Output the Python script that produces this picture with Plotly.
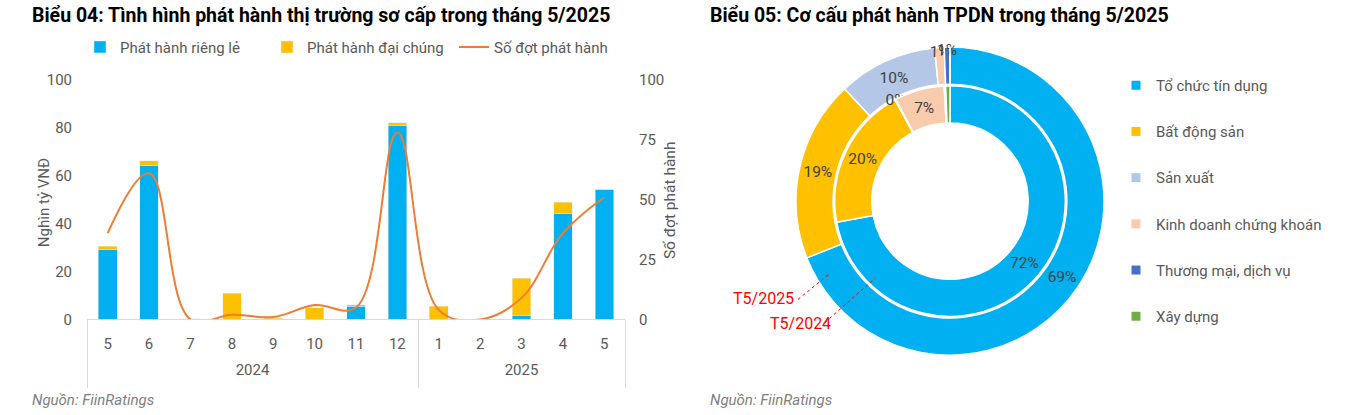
import plotly.graph_objects as go

# Biểu 04: du lieu theo thang
nam = ['2024'] * 8 + ['2025'] * 5
thang = ['5', '6', '7', '8', '9', '10', '11', '12', '1', '2', '3', '4', '5']
rieng_le = [29.3, 64.1, 0, 0, 0, 0, 5.6, 80.9, 0, 0, 1.8, 44.2, 54.4]
dai_chung = [1.2, 2.1, 0.3, 11.0, 0.6, 4.9, 0.6, 1.1, 5.5, 0, 15.4, 4.7, 0]
so_dot = [36, 61, 0, 2, 1, 6, 5, 78, 4, 0, 9, 36, 51]

# Biểu 05: co cau nganh
nganh = ['Tổ chức tín dụng', 'Bất động sản', 'Sản xuất',
         'Kinh doanh chứng khoán', 'Thương mại, dịch vụ', 'Xây dựng']
t5_2025 = [69.0, 19.0, 10.4, 1.0, 0.6, 0]
t5_2024 = [72.0, 20.0, 0.1, 7.0, 0.2, 0.6]
mau_nganh = ['#00B0F0', '#FFC000', '#B4C7E7', '#F8CBAD', '#4472C4', '#70AD47']

W, H = 1345, 415
FONT = 'Roboto'
XAM = '#595959'
VACH = '#D9D9D9'
# anh chup bi nen doc: y_anh = 0.954 * y_trang + 8.4
KY, DY = 0.954, 8.4


def px(x):
    return x / W


def sy(y):
    return (y - DY) / KY


def py(y):
    return 1 - sy(y) / H


# vi tri thang tren truc, giua nhom nam, ranh gioi nhom
vt = list(range(len(thang)))
cac_nam = sorted(set(nam))
giua_nam = [sum(i for i in vt if nam[i] == n) / nam.count(n) for n in cac_nam]
ranh_gioi = [-0.5] + [i + 0.5 for i in vt[:-1] if nam[i] != nam[i + 1]] + [len(vt) - 0.5]

fig = go.Figure()

fig.add_trace(go.Bar(x=vt, y=rieng_le, name='Phát hành riêng lẻ',
                     marker_color='#00B0F0', legend='legend'))
fig.add_trace(go.Bar(x=vt, y=dai_chung, name='Phát hành đại chúng',
                     marker_color='#FFC000', legend='legend'))
fig.add_trace(go.Scatter(x=vt, y=so_dot, name='Số đợt phát hành', yaxis='y2',
                         mode='lines', line=dict(color='#ED7D31', width=2, shape='spline', smoothing=1.1),
                         legend='legend'))
# truc phu cho nhan nam va vach chia nhom
for ax in ['x4', 'x5']:
    fig.add_trace(go.Scatter(x=[None], y=[None], xaxis=ax, yaxis='y', showlegend=False,
                             hoverinfo='skip'))

# Donut: vong ngoai T5/2025, vong trong T5/2024
tam_x, tam_y = 950, sy(200)
R1, R2 = 161, 120.5
fig.add_trace(go.Pie(labels=nganh, values=t5_2025, sort=False, direction='clockwise',
                     hole=0.759,
                     domain=dict(x=[px(tam_x - R1), px(tam_x + R1)],
                                 y=[1 - (tam_y + R1) / H, 1 - (tam_y - R1) / H]),
                     marker=dict(colors=mau_nganh, line=dict(color='white', width=1.5)),
                     texttemplate=['%{percent:.0%}'] * 5 + [''], textposition='inside',
                     insidetextorientation='horizontal',
                     textfont=dict(size=15.5, color='#404040', family=FONT),
                     showlegend=False, hoverinfo='label+percent'))
fig.add_trace(go.Pie(labels=nganh, values=t5_2024, sort=False, direction='clockwise',
                     hole=0.678,
                     domain=dict(x=[px(tam_x - R2), px(tam_x + R2)],
                                 y=[1 - (tam_y + R2) / H, 1 - (tam_y - R2) / H]),
                     marker=dict(colors=mau_nganh, line=dict(color='white', width=1.5)),
                     texttemplate=['%{percent:.0%}'] * 4 + ['', ''], textposition='inside',
                     insidetextorientation='horizontal',
                     textfont=dict(size=15.5, color='#404040', family=FONT),
                     showlegend=False, hoverinfo='label+percent'))

# chu giai cho donut (trace an de dan cach dong)
for ten, mau in zip(nganh, mau_nganh):
    fig.add_trace(go.Scatter(x=[None], y=[None], mode='markers', name=ten,
                             marker=dict(symbol='square', size=9, color=mau),
                             xaxis='x3', yaxis='y3', legend='legend2', legendgroup=ten))

khoang_x = [-0.5, len(vt) - 0.5]
fig.update_layout(
    width=W, height=H,
    margin=dict(l=0, r=0, t=0, b=0),
    paper_bgcolor='white', plot_bgcolor='white',
    font=dict(family=FONT, size=15, color=XAM),
    barmode='stack', bargap=0.55,
    uniformtext=dict(minsize=15, mode='show'),
    xaxis=dict(domain=[px(87), px(625)], range=khoang_x, tickmode='array', tickvals=vt,
               ticktext=thang, showline=True, linecolor=VACH, ticks='', ticklabelstandoff=11,
               showgrid=False, zeroline=False, tickfont=dict(size=15, color=XAM)),
    xaxis4=dict(overlaying='x', anchor='y', side='bottom', range=khoang_x, tickmode='array',
                tickvals=giua_nam, ticktext=cac_nam, ticks='', ticklabelstandoff=40,
                showline=False, showgrid=False, zeroline=False, tickfont=dict(size=15, color=XAM)),
    xaxis5=dict(overlaying='x', anchor='y', side='bottom', range=khoang_x, tickmode='array',
                tickvals=ranh_gioi, ticks='outside', ticklen=68, tickcolor=VACH, tickwidth=1,
                showticklabels=False, showline=False, showgrid=False, zeroline=False),
    yaxis=dict(domain=[py(318), py(79)], range=[0, 100], dtick=20, showgrid=False,
               zeroline=False, ticklabelstandoff=14, tickfont=dict(size=15, color=XAM)),
    yaxis2=dict(overlaying='y', side='right', range=[0, 100], dtick=25, showgrid=False,
                zeroline=False, ticklabelstandoff=13, tickfont=dict(size=15, color=XAM)),
    xaxis3=dict(domain=[0.99, 1.0], visible=False),
    yaxis3=dict(domain=[0.99, 1.0], visible=False, anchor='x3'),
    legend=dict(orientation='h', x=px(80), y=1 - 22.7 / H, xanchor='left', yanchor='top',
                entrywidth=142, itemwidth=30, traceorder='normal',
                font=dict(size=15, color=XAM), bgcolor='rgba(0,0,0,0)'),
    legend2=dict(orientation='v', x=px(1116), y=1 - 62.7 / H, xanchor='left', yanchor='top',
                 tracegroupgap=23.7, itemwidth=30, font=dict(size=15, color=XAM),
                 bgcolor='rgba(0,0,0,0)'),
)

# tieu de, nguon
ghi_chu = [
    dict(text='<b>Biểu 04: Tình hình phát hành thị trường sơ cấp trong tháng 5/2025</b>',
         x=px(30), y=py(15), size=19.5, color='black'),
    dict(text='<b>Biểu 05: Cơ cấu phát hành TPDN trong tháng 5/2025</b>',
         x=px(708), y=py(15), size=19.5, color='black'),
    dict(text='<i>Nguồn: FiinRatings</i>', x=px(30), y=py(398), size=15, color='#7F7F7F'),
    dict(text='<i>Nguồn: FiinRatings</i>', x=px(708), y=py(398), size=15, color='#7F7F7F'),
]
for g in ghi_chu:
    fig.add_annotation(text=g['text'], x=g['x'], y=g['y'], xref='paper', yref='paper',
                       xanchor='left', yanchor='middle', showarrow=False,
                       font=dict(size=g['size'], color=g['color'], family=FONT))

# ten truc
fig.add_annotation(text='Nghìn tỷ VNĐ', x=px(33), y=py(202), xref='paper', yref='paper',
                   textangle=-90, showarrow=False, font=dict(size=15, color=XAM))
fig.add_annotation(text='Số đợt phát hành', x=px(670), y=py(199), xref='paper', yref='paper',
                   textangle=-90, showarrow=False, font=dict(size=15.5, color=XAM))

# nhan T5/2025, T5/2024 voi duong gach do
fig.add_annotation(text='T5/2025', x=px(763), y=py(309), xref='paper', yref='paper',
                   showarrow=False, font=dict(size=16, color='#FF0000'))
fig.add_annotation(text='T5/2024', x=px(800), y=py(334), xref='paper', yref='paper',
                   showarrow=False, font=dict(size=16, color='#FF0000'))
fig.add_shape(type='line', xref='paper', yref='paper', x0=px(798), y0=py(298), x1=px(830), y1=py(272),
              line=dict(color='#FF0000', width=1, dash='dot'))
fig.add_shape(type='line', xref='paper', yref='paper', x0=px(825), y0=py(321), x1=px(875), y1=py(277),
              line=dict(color='#FF0000', width=1, dash='dot'))

fig.write_html('out.html', config={'displayModeBar': False},
               post_script="document.body.style.margin = '0px';")
